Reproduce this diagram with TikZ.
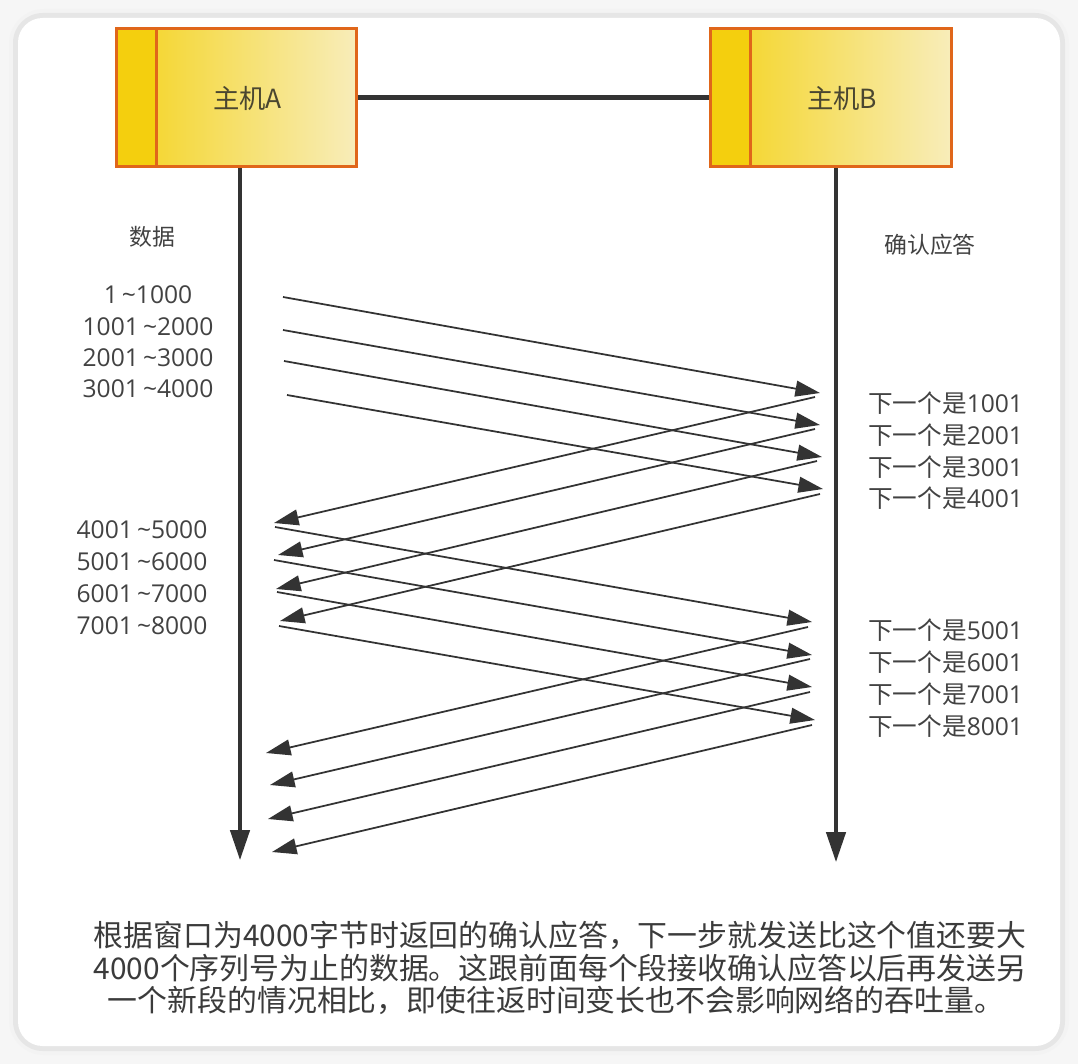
\documentclass[tikz,border=0pt]{standalone}
\usepackage{fontspec}
\setmainfont{Noto Sans CJK SC}
\newfontfamily\numfont{Open Sans}
\usetikzlibrary{arrows.meta,calc}

\definecolor{pagebg}{HTML}{F6F6F6}
\definecolor{shadowgray}{HTML}{E6E6E6}
\definecolor{hostedge}{HTML}{E0661A}
\definecolor{hoststrip}{HTML}{F4CF0E}
\definecolor{hostleft}{HTML}{F4D31C}
\definecolor{hostright}{HTML}{F8EDBA}
\definecolor{hosttext}{HTML}{4A4630}
\definecolor{linkgray}{HTML}{333333}
\definecolor{textgray}{HTML}{424242}

\begin{document}
\begin{tikzpicture}[x=0.02cm,y=-0.02cm,
  host/.style={draw=hostedge, line width=1.7pt, left color=hostleft, right color=hostright,
    minimum width=4.82cm, minimum height=2.78cm, inner sep=0pt,
    path picture={
      \fill[hoststrip] (path picture bounding box.north west) rectangle ($(path picture bounding box.south west)+(40,0)$);
      \draw[hostedge, line width=1.7pt] ($(path picture bounding box.north west)+(40,0)$) -- ($(path picture bounding box.south west)+(40,0)$);}},
  hostlabel/.style={font=\fontsize{15}{18}\selectfont, text=hosttext},
  head/.style={font=\fontsize{13}{16}\selectfont, text=textgray},
  seq/.style={font=\fontsize{14}{16}\selectfont, text=textgray, inner sep=0pt},
  note/.style={font=\fontsize{17}{20}\selectfont, text=textgray!90!black, inner sep=0pt},
  life/.style={draw=linkgray, line width=1.9pt, -{Triangle[length=17pt,width=11pt]}},
  msg/.style={draw=linkgray, line width=1pt, -{Triangle[length=14pt,width=9pt]}}]
\useasboundingbox (0,0) rectangle (1078,1064);
% card
\fill[pagebg] (0,0) rectangle (1078,1064);
\fill[shadowgray!50, rounded corners=20] (9,9) rectangle (1069,1055);
\fill[shadowgray, rounded corners=17] (13,13) rectangle (1065,1051);
\fill[white, rounded corners=14] (18,18) rectangle (1060,1046);

% hosts
\node[host] (hostA) at (236.5,97.5) {};
\node[host] (hostB) at (831,97.5) {};
\node[hostlabel] (labA) at ($(hostA)+(11,1)$) {主机A};
\node[hostlabel] (labB) at ($(hostB)+(11,1)$) {主机B};
\draw[linkgray, line width=3.4pt] (hostA.east) -- (hostB.west);

% lifelines
\coordinate (endA) at (240,860);
\coordinate (endB) at (836,862);
\draw[life] (hostA.south -| endA) -- (endA);
\draw[life] (hostB.south -| endB) -- (endB);

\node[head] (dataHead) at (152,237) {数据};
\node[head] (ackHead) at (930,245) {确认应答};

% sequence labels
\node[seq] (seq1) at (148,295) {\numfont 1\,\textasciitilde1000};
\node[seq] (seq2) at (148,327) {\numfont 1001\,\textasciitilde2000};
\node[seq] (seq3) at (148,358) {\numfont 2001\,\textasciitilde3000};
\node[seq] (seq4) at (148,389) {\numfont 3001\,\textasciitilde4000};
\node[seq] (seq5) at (142,530) {\numfont 4001\,\textasciitilde5000};
\node[seq] (seq6) at (142,562) {\numfont 5001\,\textasciitilde6000};
\node[seq] (seq7) at (142,594) {\numfont 6001\,\textasciitilde7000};
\node[seq] (seq8) at (142,626) {\numfont 7001\,\textasciitilde8000};

\node[seq, anchor=west] (ack1) at (868,403) {下一个是{\numfont 1001}};
\node[seq, anchor=west] (ack2) at (868,435) {下一个是{\numfont 2001}};
\node[seq, anchor=west] (ack3) at (868,467) {下一个是{\numfont 3001}};
\node[seq, anchor=west] (ack4) at (868,498) {下一个是{\numfont 4001}};
\node[seq, anchor=west] (ack5) at (868,630) {下一个是{\numfont 5001}};
\node[seq, anchor=west] (ack6) at (868,662) {下一个是{\numfont 6001}};
\node[seq, anchor=west] (ack7) at (868,694) {下一个是{\numfont 7001}};
\node[seq, anchor=west] (ack8) at (868,726) {下一个是{\numfont 8001}};

% first window
\coordinate (ds1) at (283,297); \coordinate (de1) at (820,393);
\coordinate (ds2) at (283,330); \coordinate (de2) at (820,425);
\coordinate (ds3) at (284,361); \coordinate (de3) at (822,457);
\coordinate (ds4) at (287,395); \coordinate (de4) at (823,489);
\coordinate (as1) at (815,397); \coordinate (ae1) at (274,523);
\coordinate (as2) at (815,429); \coordinate (ae2) at (278,555);
\coordinate (as3) at (817,461); \coordinate (ae3) at (276,589);
\coordinate (as4) at (820,494); \coordinate (ae4) at (280,621);
\draw[msg] (ds1) -- (de1);
\draw[msg] (ds2) -- (de2);
\draw[msg] (ds3) -- (de3);
\draw[msg] (ds4) -- (de4);
\draw[msg] (as1) -- (ae1);
\draw[msg] (as2) -- (ae2);
\draw[msg] (as3) -- (ae3);
\draw[msg] (as4) -- (ae4);

% second window
\coordinate (ds5) at (275,527); \coordinate (de5) at (812,622);
\coordinate (ds6) at (274,560); \coordinate (de6) at (812,655);
\coordinate (ds7) at (277,592); \coordinate (de7) at (812,687);
\coordinate (ds8) at (279,626); \coordinate (de8) at (815,720);
\coordinate (as5) at (808,627); \coordinate (ae5) at (266,753);
\coordinate (as6) at (810,659); \coordinate (ae6) at (270,785);
\coordinate (as7) at (810,692); \coordinate (ae7) at (268,819);
\coordinate (as8) at (812,725); \coordinate (ae8) at (272,852);
\draw[msg] (ds5) -- (de5);
\draw[msg] (ds6) -- (de6);
\draw[msg] (ds7) -- (de7);
\draw[msg] (ds8) -- (de8);
\draw[msg] (as5) -- (ae5);
\draw[msg] (as6) -- (ae6);
\draw[msg] (as7) -- (ae7);
\draw[msg] (as8) -- (ae8);

% caption
\node[note] (note1) at (560,935) {根据窗口为4000字节时返回的确认应答，下一步就发送比这个值还要大};
\node[note] (note2) at (560,968) {4000个序列号为止的数据。这跟前面每个段接收确认应答以后再发送另};
\node[note] (note3) at (556,1000) {一个新段的情况相比，即使往返时间变长也不会影响网络的吞吐量。};
\end{tikzpicture}
\end{document}
